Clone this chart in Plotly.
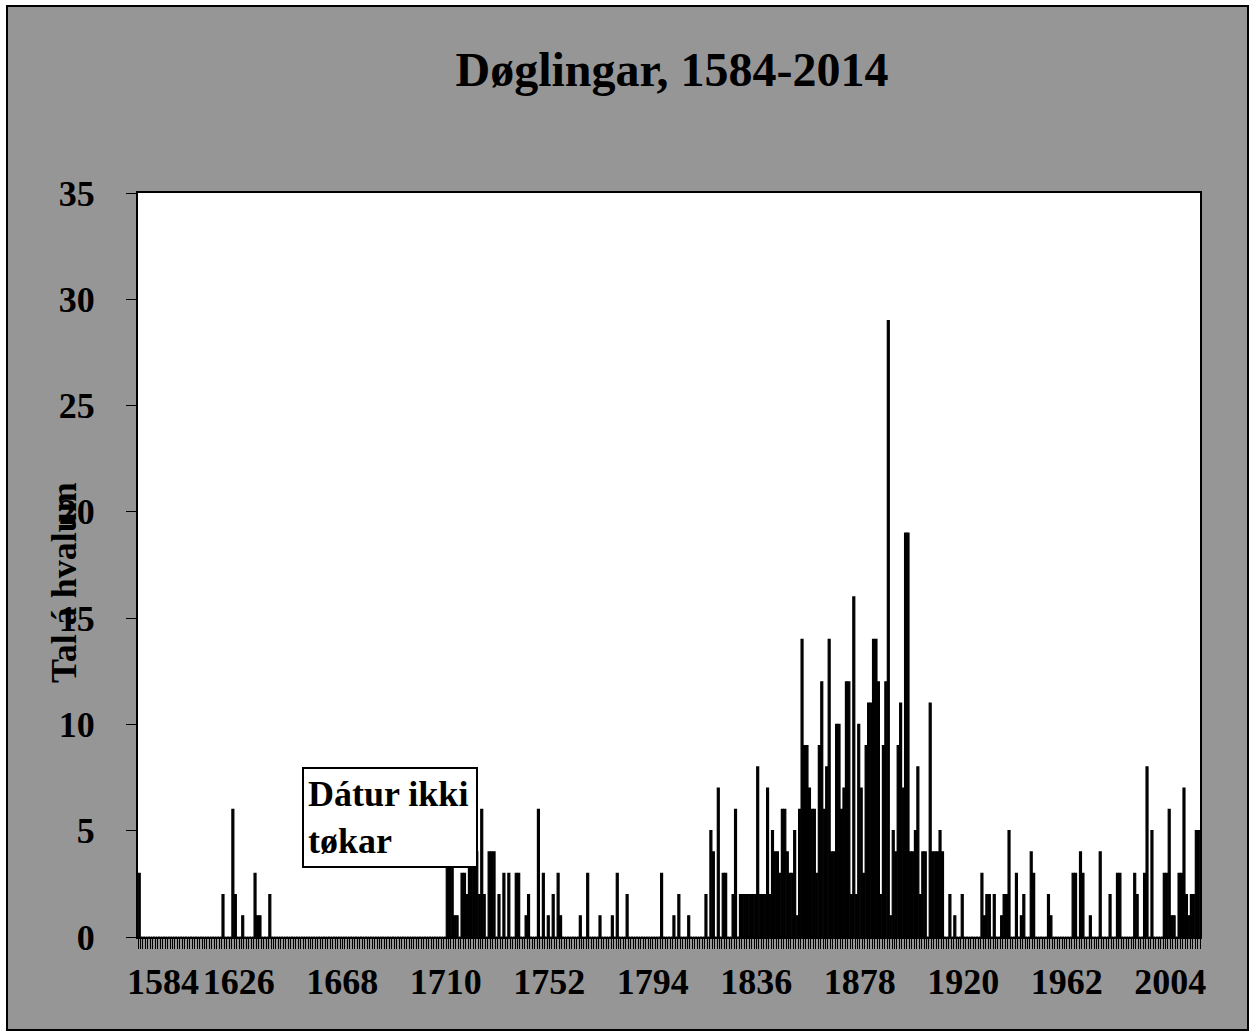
import numpy as np
import plotly.graph_objects as go

# ---- data ----
first_year = 1584
last_year = 2014

nonzero_years = [
    1584, 1618, 1622, 1623, 1626, 1631, 1632, 1633, 1637,
    1709, 1710, 1711, 1712, 1713, 1715, 1716, 1717, 1718, 1719, 1720, 1721, 1722,
    1723, 1724, 1726, 1727, 1728, 1730, 1732, 1734, 1737, 1738, 1741, 1742, 1746,
    1748, 1750, 1752, 1754, 1755, 1763, 1766, 1771, 1776, 1778, 1782, 1796, 1801,
    1803, 1807,
    1814, 1816, 1817, 1819, 1821, 1822, 1825, 1826, 1828, 1829, 1830, 1831, 1832,
    1833, 1834, 1835, 1836, 1837, 1838, 1839, 1840, 1841, 1842, 1843, 1844, 1845,
    1846, 1847, 1848, 1849, 1850, 1851, 1852,
    1853, 1854, 1855, 1856, 1857, 1858, 1859, 1860, 1861, 1862, 1863, 1864, 1865,
    1866, 1867, 1868, 1869, 1870, 1871, 1872, 1873, 1874, 1875, 1876, 1877, 1878,
    1879, 1880, 1881, 1882, 1883, 1884, 1885, 1886, 1887, 1888, 1889, 1890, 1891,
    1892, 1893, 1894, 1895, 1896, 1897, 1898, 1899, 1900, 1901, 1902, 1903, 1905,
    1906, 1907, 1908, 1909, 1910, 1913, 1915, 1918,
    1926, 1927, 1928, 1929, 1931, 1934, 1935, 1936, 1937, 1940, 1942, 1943, 1946,
    1947, 1953, 1954, 1963, 1964, 1966, 1967, 1970, 1974, 1978, 1981, 1982, 1988,
    1989, 1992, 1993, 1995, 2000, 2001, 2002, 2003, 2004, 2006, 2007, 2008, 2009,
    2010, 2011, 2012, 2013, 2014,
]
nonzero_counts = [
    3, 2, 6, 2, 1, 3, 1, 1, 2,
    4, 4, 4, 1, 1, 3, 3, 2, 4, 5, 5, 4, 2,
    6, 2, 4, 4, 4, 2, 3, 3, 3, 3, 1, 2, 6,
    3, 1, 2, 3, 1, 1, 3, 1, 1, 3, 2, 3, 1,
    2, 1,
    2, 5, 4, 7, 3, 3, 2, 6, 2, 2, 2, 2, 2,
    2, 2, 8, 2, 2, 2, 7, 2, 5, 4, 4, 3, 6,
    6, 4, 3, 3, 5, 1, 6,
    14, 9, 9, 7, 6, 6, 3, 9, 12, 6, 8, 14, 4,
    4, 10, 10, 6, 7, 12, 12, 2, 16, 2, 10, 7, 3,
    9, 11, 11, 14, 14, 12, 2, 9, 12, 29, 1, 5, 4,
    9, 11, 7, 19, 19, 4, 4, 5, 8, 2, 4, 4, 11,
    4, 4, 4, 5, 4, 2, 1, 2,
    3, 1, 2, 2, 2, 1, 2, 2, 5, 3, 1, 2, 4,
    3, 2, 1, 3, 3, 4, 3, 1, 4, 2, 3, 3, 3,
    2, 3, 8, 5, 3, 3, 6, 1, 1, 3, 3, 7, 2,
    1, 2, 2, 5, 5,
]
label_years = [1626, 1668, 1710, 1752, 1794, 1836, 1878, 1920, 1962, 2004]
first_label_year = 1584
y_ticks = [0, 5, 10, 15, 20, 25, 30, 35]

years = np.arange(first_year, last_year + 1)
counts = np.zeros(len(years))
counts[np.array(nonzero_years) - first_year] = nonzero_counts

# ---- layout geometry ----
W, H = 1254, 1036
L, R, T, B = 138, 54, 193, 99
pw, ph = W - L - R, H - T - B


def px_x(px):
    return (px - L) / pw


def px_y(py):
    return (H - B - py) / ph


FONT = "Liberation Serif, Times New Roman, serif"
GRAY = "#969696"
TICKFONT = dict(family=FONT, size=36, color="black", weight="bold")

fig = go.Figure()
fig.add_trace(go.Bar(x=years, y=counts,
                     marker=dict(color="black", line=dict(width=1.2, color="black")),
                     hoverinfo="x+y"))

fig.update_layout(
    width=W, height=H,
    margin=dict(l=L, r=R, t=T, b=B),
    paper_bgcolor="white",
    plot_bgcolor="white",
    bargap=0.2,
    showlegend=False,
    font=dict(family=FONT, color="black", size=36, weight="bold"),
    title=dict(text="Døglingar, 1584-2014", x=672 / W, xanchor="center",
               y=1 - 69 / H, yanchor="middle",
               font=dict(family=FONT, size=48, color="black", weight="bold")),
)

fig.update_xaxes(
    type="linear", range=[first_year - 0.5, last_year + 0.5],
    tickmode="array", tickvals=label_years, ticktext=[str(v) for v in label_years],
    ticks="", showgrid=False, zeroline=False,
    showline=True, linecolor="black", linewidth=2, mirror=True,
    tickfont=TICKFONT,
    ticklabelshift=-4, ticklabelstandoff=12,
    minor=dict(ticks="outside", ticklen=10, tickcolor="black", tickwidth=1,
               tick0=first_year - 0.5, dtick=1, showgrid=False),
)
fig.update_yaxes(
    range=[0, 35], tickmode="array", tickvals=y_ticks,
    ticks="outside", ticklen=10, tickcolor="black", tickwidth=1,
    showgrid=False, zeroline=False,
    showline=True, linecolor="black", linewidth=2, mirror=True,
    tickfont=TICKFONT, ticklabelstandoff=24,
)

# first category label sits inward of the axis start, as in the reference
fig.add_annotation(text=str(first_label_year), x=first_label_year, xref="x",
                   y=0, yref="paper", yanchor="top", xanchor="center",
                   xshift=24, yshift=-23, showarrow=False, font=TICKFONT)

# gray chart area with black border, and white plot area on top of it
fig.add_shape(type="rect", xref="paper", yref="paper", layer="below",
              x0=px_x(7), x1=px_x(1248), y0=px_y(1030), y1=px_y(6),
              fillcolor=GRAY, line=dict(color="black", width=2))
fig.add_shape(type="rect", xref="paper", yref="paper", layer="below",
              x0=0, x1=1, y0=0, y1=1, fillcolor="white", line=dict(width=0))

# y-axis title
fig.add_annotation(text="Tal á hvalum", xref="paper", yref="paper",
                   x=px_x(64), y=px_y(583), textangle=-90, showarrow=False,
                   xanchor="center", yanchor="middle",
                   font=dict(family=FONT, size=36, color="black", weight="bold"))

# note box
fig.add_annotation(text="Dátur ikki<br>tøkar", xref="paper", yref="paper",
                   x=px_x(302), y=px_y(767), xanchor="left", yanchor="top",
                   showarrow=False, align="left", valign="middle",
                   width=164, height=89, borderpad=4,
                   bgcolor="white", bordercolor="black", borderwidth=2,
                   font=dict(family=FONT, size=36, color="black", weight="bold"))

fig.write_html("out.html", config={"displayModeBar": False},
               post_script="document.body.style.margin='0px';")
